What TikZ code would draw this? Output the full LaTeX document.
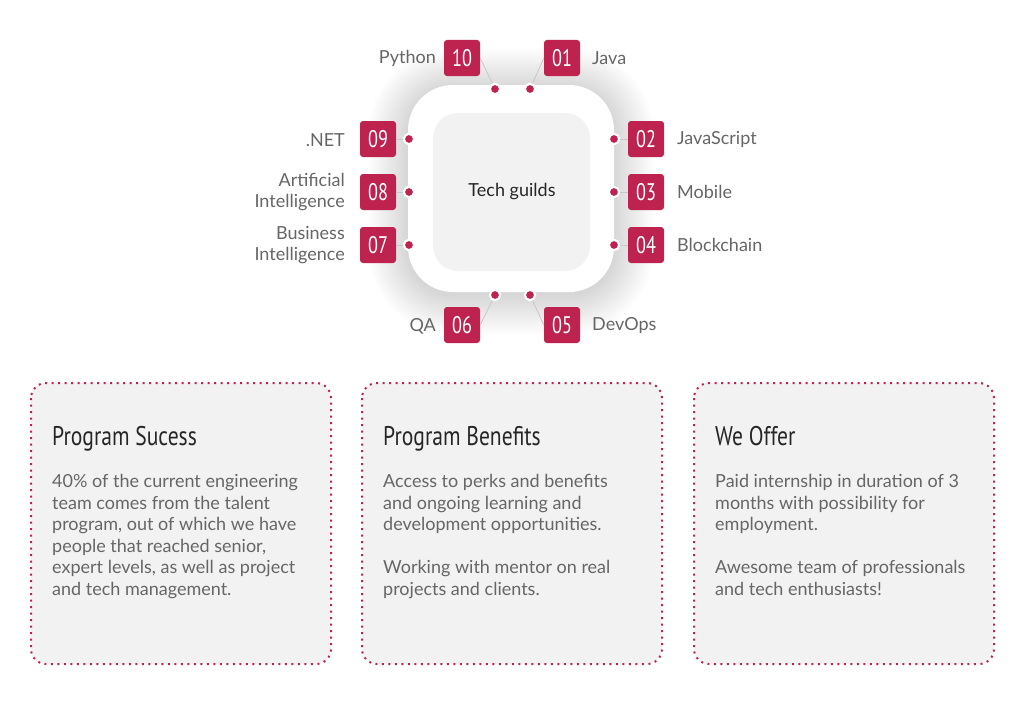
\documentclass[tikz,border=0pt]{standalone}
\usepackage{fontspec}
\setmainfont{Lato}
\newfontfamily\numfont[FakeStretch=0.76]{PT Sans}
\newfontfamily\titlefont[FakeStretch=0.8]{PT Sans}
\definecolor{crim}{RGB}{190,35,80}
\definecolor{txtgray}{RGB}{102,102,102}
\definecolor{cardfill}{RGB}{242,242,242}
\definecolor{linegray}{RGB}{200,200,200}
\begin{document}
\begin{tikzpicture}[x=1pt,y=-1pt,
  numbox/.style={fill=crim, rounded corners=3pt, minimum width=36pt, minimum height=36pt, inner sep=0pt, text=white, font=\numfont\fontsize{24}{24}\selectfont},
  lbl/.style={text=txtgray, font=\fontsize{18}{21}\selectfont, inner sep=0pt},
  dotm/.style={circle, fill=crim, draw=white, line width=1.5pt, minimum size=11pt, inner sep=0pt},
  conn/.style={draw=linegray, line width=0.8pt},
  card/.style={fill=cardfill, draw=crim, line width=2pt, dash pattern=on 2pt off 4.5pt, rounded corners=15pt},
  ctitle/.style={text=black!85, font=\titlefont\fontsize{27}{27}\selectfont, inner sep=0pt, anchor=base west},
  cbody/.style={text=txtgray, font=\fontsize{18}{21.6}\selectfont, inner sep=0pt, align=left, anchor=north west}
]
\fill[white] (0,0) rectangle (1024,701);
% shadow
\foreach \i in {1,...,40}{
  \fill[black, opacity=0.0028, rounded corners={45pt+\i pt}] (408-\i,85-\i+3) rectangle (614+\i,292+\i+3);
}
\fill[white, rounded corners=45pt] (408,85) rectangle (614,292);
\fill[cardfill, rounded corners=25pt] (433,113) rectangle (590,271);
\node[font=\fontsize{18}{18}\selectfont, text=black!85] (center) at (512,192) {Tech guilds};

% number boxes
\node[numbox] (b10) at (462,58) {10};
\node[numbox] (b01) at (562,58) {01};
\node[numbox] (b09) at (378,139) {09};
\node[numbox] (b08) at (378,192) {08};
\node[numbox] (b07) at (378,245) {07};
\node[numbox] (b02) at (646,139) {02};
\node[numbox] (b03) at (646,192) {03};
\node[numbox] (b04) at (646,245) {04};
\node[numbox] (b06) at (462,325) {06};
\node[numbox] (b05) at (562,325) {05};

% dots
\node[dotm] (d10) at (495,89) {};
\node[dotm] (d01) at (530,89) {};
\node[dotm] (d09) at (409,139) {};
\node[dotm] (d08) at (409,192) {};
\node[dotm] (d07) at (409,245) {};
\node[dotm] (d02) at (614,139) {};
\node[dotm] (d03) at (614,192) {};
\node[dotm] (d04) at (614,245) {};
\node[dotm] (d06) at (495,295) {};
\node[dotm] (d05) at (530,295) {};

\draw[conn] (b10.east) -- (d10);
\draw[conn] (b01.west) -- (d01);
\draw[conn] (b09.east) -- (d09);
\draw[conn] (b08.east) -- (d08);
\draw[conn] (b07.east) -- (d07);
\draw[conn] (b02.west) -- (d02);
\draw[conn] (b03.west) -- (d03);
\draw[conn] (b04.west) -- (d04);
\draw[conn] (b06.east) -- (d06);
\draw[conn] (b05.west) -- (d05);
% redraw dots on top of connectors
\foreach \d in {d10,d01,d09,d08,d07,d02,d03,d04,d06,d05}{
  \fill[crim, draw=white, line width=1.5pt] (\d) circle (4.8pt);
}

% labels
\node[lbl, anchor=east] (lpy) at (436,58) {Python};
\node[lbl, anchor=west] (lja) at (592,58) {Java};
\node[lbl, anchor=east] (lnet) at (345,140) {.NET};
\node[lbl, anchor=east, align=right] (lai) at (345,192) {Artificial\\Intelligence};
\node[lbl, anchor=east, align=right] (lbi) at (345,245) {Business\\Intelligence};
\node[lbl, anchor=west] (ljs) at (677,139) {JavaScript};
\node[lbl, anchor=west] (lmo) at (677,192) {Mobile};
\node[lbl, anchor=west] (lbc) at (677,245) {Blockchain};
\node[lbl, anchor=east] (lqa) at (436,326) {QA};
\node[lbl, anchor=west] (ldo) at (592,326) {DevOps};

% cards
\draw[card] (31,383) rectangle (331,664);
\draw[card] (362,383) rectangle (662,664);
\draw[card] (694,383) rectangle (994,664);

\node[ctitle] (t1) at (52,445) {Program Sucess};
\node[ctitle] (t2) at (383,445) {Program Benefits};
\node[ctitle] (t3) at (715,445) {We Offer};

\node[cbody] (c1) at (52,474) {40\% of the current engineering\\team comes from the talent\\program, out of which we have\\people that reached senior,\\expert levels, as well as project\\and tech management.};
\node[cbody] (c2) at (383,474) {Access to perks and benefits\\and ongoing learning and\\development opportunities.\\[21.6pt]Working with mentor on real\\projects and clients.};
\node[cbody] (c3) at (715,474) {Paid internship in duration of 3\\months with possibility for\\employment.\\[21.6pt]Awesome team of professionals\\and tech enthusiasts!};
\end{tikzpicture}
\end{document}
